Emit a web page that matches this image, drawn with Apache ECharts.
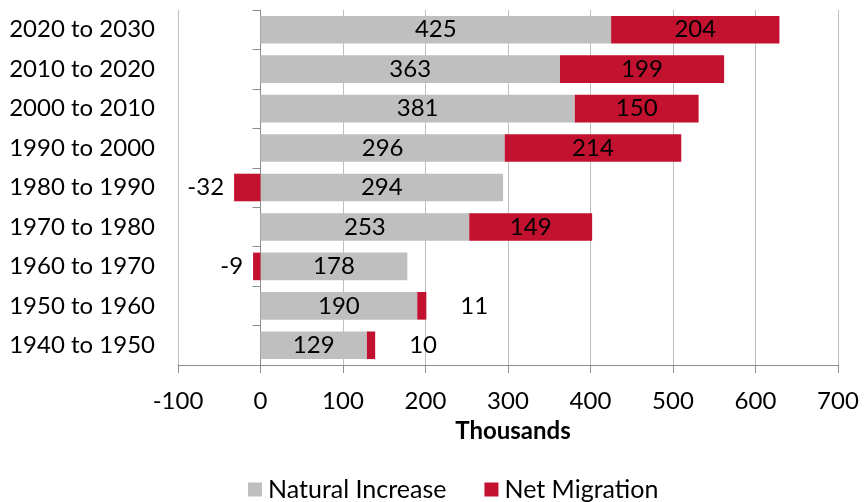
<!DOCTYPE html>
<html>
<head>
<meta charset="utf-8">
<script src="https://cdn.jsdelivr.net/npm/echarts@6/dist/echarts.min.js"></script>
<style>html,body{margin:0;padding:0;background:#fff}#c{width:865px;height:502px}</style>
</head>
<body>
<div id="c"></div>
<script>
const categories = ['2020 to 2030','2010 to 2020','2000 to 2010','1990 to 2000','1980 to 1990','1970 to 1980','1960 to 1970','1950 to 1960','1940 to 1950'];
const naturalIncrease = [425, 363, 381, 296, 294, 253, 178, 190, 129];
const netMigration = [204, 199, 150, 214, -32, 149, -9, 11, 10];
const xTicks = [-100, 0, 100, 200, 300, 400, 500, 600, 700];

const FONT = 'Lato';
const chart = echarts.init(document.getElementById('c'));

function migItem(v) {
  if (v < 0) return { value: v, label: { position: 'left', distance: 10 } };
  if (v < 30) return { value: v, label: { position: 'right', distance: 34 } };
  return v;
}

chart.setOption({
  animation: false,
  textStyle: { fontFamily: FONT },
  grid: { left: 178, right: 27, top: 10, bottom: 137, containLabel: false },
  xAxis: {
    type: 'value', min: xTicks[0], max: xTicks[xTicks.length - 1], interval: 100,
    name: 'Thousands', nameLocation: 'middle', nameGap: 54,
    nameTextStyle: { fontFamily: FONT, fontSize: 24, fontWeight: 'bold', color: '#000', padding: [0, 0, 0, 10] },
    axisLine: { show: true, onZero: false, lineStyle: { color: '#8c8c8c' } },
    axisTick: { show: true, length: 8, lineStyle: { color: '#8c8c8c' } },
    axisLabel: { fontFamily: FONT, fontSize: 24, color: '#000', margin: 24 },
    splitLine: { show: true, lineStyle: { color: '#bfbfbf', width: 1 } }
  },
  yAxis: [
    {
      type: 'category', data: categories, inverse: true, position: 'left',
      axisLine: { show: false, onZero: false },
      axisTick: { show: false },
      axisLabel: { fontFamily: FONT, fontSize: 24, color: '#000', margin: 23 }
    },
    {
      type: 'category', data: categories, inverse: true, position: 'left',
      axisLine: { show: true, onZero: true, lineStyle: { color: '#8c8c8c' } },
      axisTick: { show: true, length: 8, lineStyle: { color: '#8c8c8c' } },
      axisLabel: { show: false }
    }
  ],
  legend: {
    bottom: 0, left: 243, itemWidth: 14, itemHeight: 14, itemGap: 38,
    padding: [0, 5, 0, 5],
    icon: 'rect',
    textStyle: { fontFamily: FONT, fontSize: 25, color: '#000', padding: [0, 0, 0, 1] },
    data: ['Natural Increase', 'Net Migration']
  },
  series: [
    {
      name: 'Natural Increase', type: 'bar', stack: 'total', yAxisIndex: 0,
      barCategoryGap: '30%',
      itemStyle: { color: '#bfbfbf' },
      label: { show: true, position: 'inside', fontFamily: FONT, fontSize: 24, color: '#000' },
      data: naturalIncrease
    },
    {
      name: 'Net Migration', type: 'bar', stack: 'total', yAxisIndex: 0,
      barCategoryGap: '30%',
      itemStyle: { color: '#c3122f' },
      label: { show: true, position: 'inside', fontFamily: FONT, fontSize: 24, color: '#000' },
      data: netMigration.map(migItem)
    }
  ]
});
</script>
</body>
</html>
